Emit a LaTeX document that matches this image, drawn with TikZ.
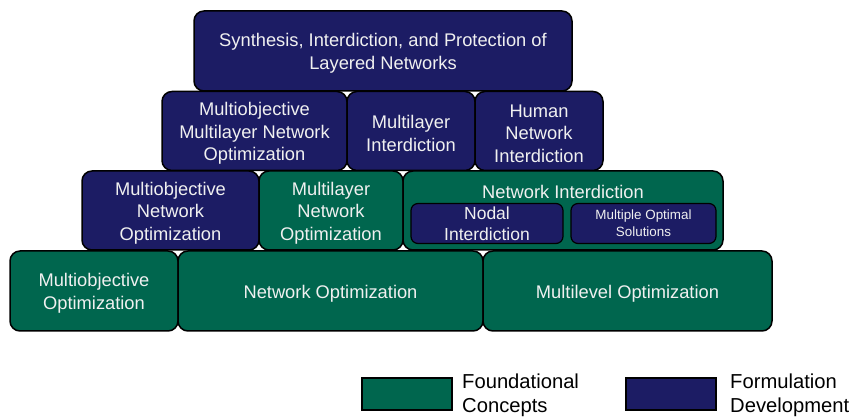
\documentclass[tikz,border=0pt]{standalone}
\usepackage{fontspec}
\setmainfont{Liberation Sans}
\definecolor{navyfill}{RGB}{28,28,100}
\definecolor{greenfill}{RGB}{0,102,78}
\definecolor{boxtext}{RGB}{240,240,240}
\tikzset{
  blk/.style={draw=black, line width=1.5pt, rounded corners=10pt, inner sep=0pt},
  navybox/.style={blk, fill=navyfill},
  greenbox/.style={blk, fill=greenfill},
  innerbox/.style={navybox, rounded corners=7pt, line width=1.2pt,
    text=boxtext, align=center},
  lbl/.style={text=boxtext, align=center, inner sep=0pt,
    font=\fontsize{18.3}{22.5}\selectfont, yshift=-2.5pt},
  keybox/.style={draw=black, line width=1.5pt, inner sep=0pt, minimum width=90pt, minimum height=32pt},
  keytext/.style={anchor=west, align=left, inner sep=0pt, font=\fontsize{20.2}{24}\selectfont}
}
\begin{document}
\begin{tikzpicture}[x=1pt, y=-1pt]
\useasboundingbox (0,0) rectangle (855,419);
% top tier
\node[navybox, minimum width=378pt, minimum height=80pt] (sip) at (383,51) {};
\node[lbl] (sipt) at (sip.center) {Synthesis, Interdiction, and Protection of\\Layered Networks};
% second tier
\node[navybox, minimum width=185pt, minimum height=79pt] (mmno) at (254.5,131) {};
\node[lbl] (mmnot) at (mmno.center) {Multiobjective\\Multilayer Network\\Optimization};
\node[navybox, minimum width=128pt, minimum height=79pt] (mli) at (411,131) {};
\node[lbl] (mlit) at (mli.center) {Multilayer\\Interdiction};
\node[navybox, minimum width=128pt, minimum height=79pt] (hni) at (539,131) {};
\node[lbl] (hnit) at (hni.center) {Human\\Network\\Interdiction};
% third tier
\node[navybox, minimum width=177pt, minimum height=79pt] (mno) at (170.5,210.5) {};
\node[lbl] (mnot) at (mno.center) {Multiobjective\\Network\\Optimization};
\node[greenbox, minimum width=144pt, minimum height=79pt] (mlno) at (331,210.5) {};
\node[lbl] (mlnot) at (mlno.center) {Multilayer\\Network\\Optimization};
\node[greenbox, minimum width=320pt, minimum height=79pt] (ni) at (563,210.5) {};
\node[lbl, font=\fontsize{18.3}{22}\selectfont, yshift=0pt] (nit) at (563,189.5) {Network Interdiction};
\node[innerbox, minimum width=152pt, minimum height=40pt,
  font=\fontsize{17.5}{21}\selectfont] (nodal) at (487,223.5)
  {Nodal\\Interdiction};
\node[innerbox, minimum width=145pt, minimum height=40pt,
  font=\fontsize{13.4}{17}\selectfont] (mos) at (643.5,223.5)
  {Multiple Optimal\\Solutions};
% base tier
\node[greenbox, minimum width=168pt, minimum height=80pt] (moo) at (94,291) {};
\node[lbl] (moot) at (moo.center) {Multiobjective\\Optimization};
\node[greenbox, minimum width=305pt, minimum height=80pt] (no) at (330.5,291) {};
\node[lbl] (not) at (no.center) {Network Optimization};
\node[greenbox, minimum width=289pt, minimum height=80pt] (mlo) at (627.5,291) {};
\node[lbl] (mlot) at (mlo.center) {Multilevel Optimization};
% key
\node[keybox, fill=greenfill] (keyg) at (407,394) {};
\node[keytext] (keygt) at (462,395) {Foundational\\Concepts};
\node[keybox, fill=navyfill] (keyn) at (671,394) {};
\node[keytext] (keynt) at (730,395) {Formulation\\Development};
\end{tikzpicture}
\end{document}
